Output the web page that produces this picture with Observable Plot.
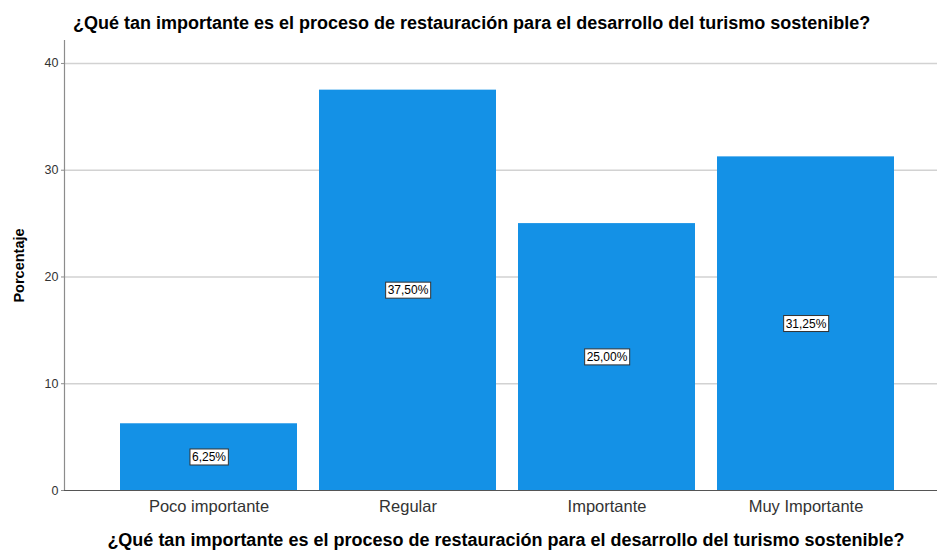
<!DOCTYPE html>
<html>
<head>
<meta charset="utf-8">
<script src="https://cdn.jsdelivr.net/npm/d3@7"></script>
<script src="https://cdn.jsdelivr.net/npm/@observablehq/plot@0.6"></script>
<style>
  body { margin: 0; background: #fff; }
  #wrap { position: relative; width: 937px; height: 554px; overflow: hidden; font-family: "Liberation Sans", Arial, sans-serif; }
  #title { position: absolute; left: 73px; top: 13px; font-weight: bold; font-size: 18px; color: #000; white-space: nowrap; }
  #xtitle { position: absolute; left: 0; width: 1012px; text-align: center; top: 530px; font-weight: bold; font-size: 18px; color: #000; white-space: nowrap; }
  #chart { position: absolute; left: 0; top: 0; }
</style>
</head>
<body>
<div id="wrap">
  <div id="chart"></div>
  <div id="title">¿Qué tan importante es el proceso de restauración para el desarrollo del turismo sostenible?</div>
  <div id="xtitle">¿Qué tan importante es el proceso de restauración para el desarrollo del turismo sostenible?</div>
</div>
<script>
const categories = ["Poco importante", "Regular", "Importante", "Muy Importante"];
const values = [6.25, 37.5, 25.0, 31.25];
const labels = ["6,25%", "37,50%", "25,00%", "31,25%"];
const yTicks = [0, 10, 20, 30, 40];

const data = categories.map((c, i) => ({category: c, value: values[i], label: labels[i]}));

const plot = Plot.plot({
  width: 937,
  height: 554,
  marginLeft: 64,
  marginRight: 0,
  marginTop: 40,
  marginBottom: 64,
  style: {fontFamily: "Liberation Sans, Arial, sans-serif", background: "#fff"},
  x: {domain: categories, range: [64, 951], paddingInner: 0.11, paddingOuter: 0.275, label: null},
  y: {domain: [0, 42.15], label: null},
  marks: [
    Plot.ruleY(yTicks.filter(d => d > 0), {stroke: "#d2d2d2", strokeWidth: 1.5, strokeOpacity: 1}),
    Plot.barY(data, {x: "category", y: "value", fill: "#1491E6"}),
    Plot.frame({anchor: "left", stroke: "#8c8c8c", strokeWidth: 1.2}),
    Plot.ruleY([0], {stroke: "#555", strokeWidth: 1.2}),
    Plot.axisY({ticks: yTicks, tickSize: 3, tickPadding: 3, fontSize: 12.5, label: null, stroke: "#8c8c8c", fill: "#333"}),
    Plot.axisX({tickSize: 0, tickPadding: 10, fontSize: 16.5, label: null, fill: "#333"}),
    Plot.text(["Porcentaje"], {frameAnchor: "left", textAnchor: "middle", dx: -45, rotate: -90, fontSize: 14.5, fontWeight: "bold", fill: "#000"}),
    Plot.text(data, {x: "category", y: d => d.value / 2, text: "label", fontSize: 12, fill: "#000", className: "barlabel"})
  ]
});
document.getElementById("chart").appendChild(plot);

// white boxes with dark border behind bar labels
d3.select(plot).selectAll("g.barlabel text").each(function() {
  const b = this.getBBox();
  d3.select(this.parentNode).insert("rect", () => this)
    .attr("transform", this.getAttribute("transform"))
    .attr("x", b.x - 2).attr("y", b.y - 1)
    .attr("width", b.width + 4).attr("height", b.height + 2)
    .attr("fill", "#fff").attr("stroke", "#333").attr("stroke-width", 1);
});
</script>
</body>
</html>
